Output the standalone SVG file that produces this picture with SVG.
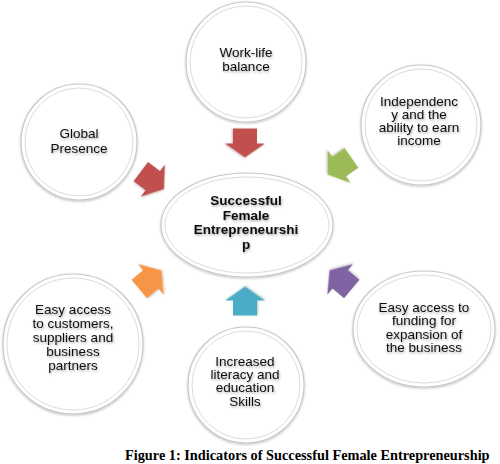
<svg xmlns="http://www.w3.org/2000/svg" width="500" height="464" viewBox="0 0 500 464">
<style>
  .ring{fill:#ffffff;stroke:#c8c8c8;stroke-width:1.2;filter:url(#sh)}
  .inner{fill:none;stroke:#dcdcdc;stroke-width:1}
  .lbl{font-family:"Liberation Sans",Arial,sans-serif;font-size:13.5px;fill:#111;text-anchor:middle;filter:url(#tsh)}
  .ctr{font-family:"Liberation Sans",Arial,sans-serif;font-size:13.5px;font-weight:bold;fill:#111;text-anchor:middle;filter:url(#tsh)}
  .cap{font-family:"Liberation Serif","Times New Roman",serif;font-size:14.3px;font-weight:bold;fill:#000}
  .arr{filter:url(#ash)}
</style>
<defs>
  <filter id="sh" x="-20%" y="-20%" width="140%" height="140%">
    <feDropShadow dx="0" dy="1" stdDeviation="1.2" flood-color="#000" flood-opacity="0.25"/>
  </filter>
  <filter id="tsh" x="-20%" y="-40%" width="140%" height="180%">
    <feDropShadow dx="0.8" dy="1.5" stdDeviation="1" flood-color="#000" flood-opacity="0.35"/>
  </filter>
  <filter id="ash" x="-30%" y="-30%" width="160%" height="160%">
    <feDropShadow dx="0.5" dy="1" stdDeviation="0.8" flood-color="#000" flood-opacity="0.25"/>
  </filter>
  <path id="blk" d="M-14,-12 H1 V-20 L15,0 L1,20 V12 H-14 Z"/>
</defs>

<g id="connectors">
  <use href="#blk" class="arr" fill="#c0504d" transform="translate(245,142.5) rotate(90)"/>
  <use href="#blk" class="arr" fill="#c0504d" transform="translate(152,180) rotate(37)"/>
  <use href="#blk" class="arr" fill="#9bbb59" transform="translate(340,166) rotate(145)"/>
  <use href="#blk" class="arr" fill="#f79646" transform="translate(150,280) rotate(-40)"/>
  <use href="#blk" class="arr" fill="#8064a2" transform="translate(341,280) rotate(-140)"/>
  <use href="#blk" class="arr" fill="#4bacc6" transform="translate(245,301.5) rotate(-90)"/>
</g>

<g id="center">
  <ellipse class="ring" cx="247" cy="225" rx="86" ry="52"/>
  <ellipse class="inner" cx="247" cy="225" rx="82" ry="48"/>
  <text class="ctr" x="246" y="205">Successful</text>
  <text class="ctr" x="246" y="219.5">Female</text>
  <text class="ctr" x="246" y="234">Entrepreneurshi</text>
  <text class="ctr" x="246" y="248.5">p</text>
</g>

<g id="work-life">
  <circle class="ring" cx="246" cy="62" r="60"/>
  <circle class="inner" cx="246" cy="62" r="56"/>
  <text class="lbl" x="246" y="57">Work-life</text>
  <text class="lbl" x="246" y="71">balance</text>
</g>

<g id="global">
  <circle class="ring" cx="79" cy="142" r="58"/>
  <circle class="inner" cx="79" cy="142" r="54"/>
  <text class="lbl" x="79" y="138">Global</text>
  <text class="lbl" x="79" y="152.5">Presence</text>
</g>

<g id="independency">
  <circle class="ring" cx="421" cy="125" r="60"/>
  <circle class="inner" cx="421" cy="125" r="56"/>
  <text class="lbl" x="419" y="106">Independenc</text>
  <text class="lbl" x="419" y="119">y and the</text>
  <text class="lbl" x="419" y="132">ability to earn</text>
  <text class="lbl" x="419" y="145">income</text>
</g>

<g id="customers">
  <circle class="ring" cx="73" cy="344" r="70"/>
  <circle class="inner" cx="73" cy="344" r="66"/>
  <text class="lbl" x="73" y="314">Easy access</text>
  <text class="lbl" x="73" y="328">to customers,</text>
  <text class="lbl" x="73" y="342">suppliers and</text>
  <text class="lbl" x="73" y="356">business</text>
  <text class="lbl" x="73" y="370">partners</text>
</g>

<g id="funding">
  <ellipse class="ring" cx="424" cy="329" rx="71" ry="58"/>
  <ellipse class="inner" cx="424" cy="329" rx="67" ry="54"/>
  <text class="lbl" x="424" y="312">Easy access to</text>
  <text class="lbl" x="424" y="325">funding for</text>
  <text class="lbl" x="424" y="338.5">expansion of</text>
  <text class="lbl" x="424" y="352">the business</text>
</g>

<g id="literacy">
  <circle class="ring" cx="246" cy="385" r="58"/>
  <circle class="inner" cx="246" cy="385" r="54"/>
  <text class="lbl" x="245" y="366">Increased</text>
  <text class="lbl" x="245" y="379">literacy and</text>
  <text class="lbl" x="245" y="392">education</text>
  <text class="lbl" x="245" y="406">Skills</text>
</g>

<text class="cap" x="125" y="460">Figure 1: Indicators of Successful Female Entrepreneurship</text>
</svg>
